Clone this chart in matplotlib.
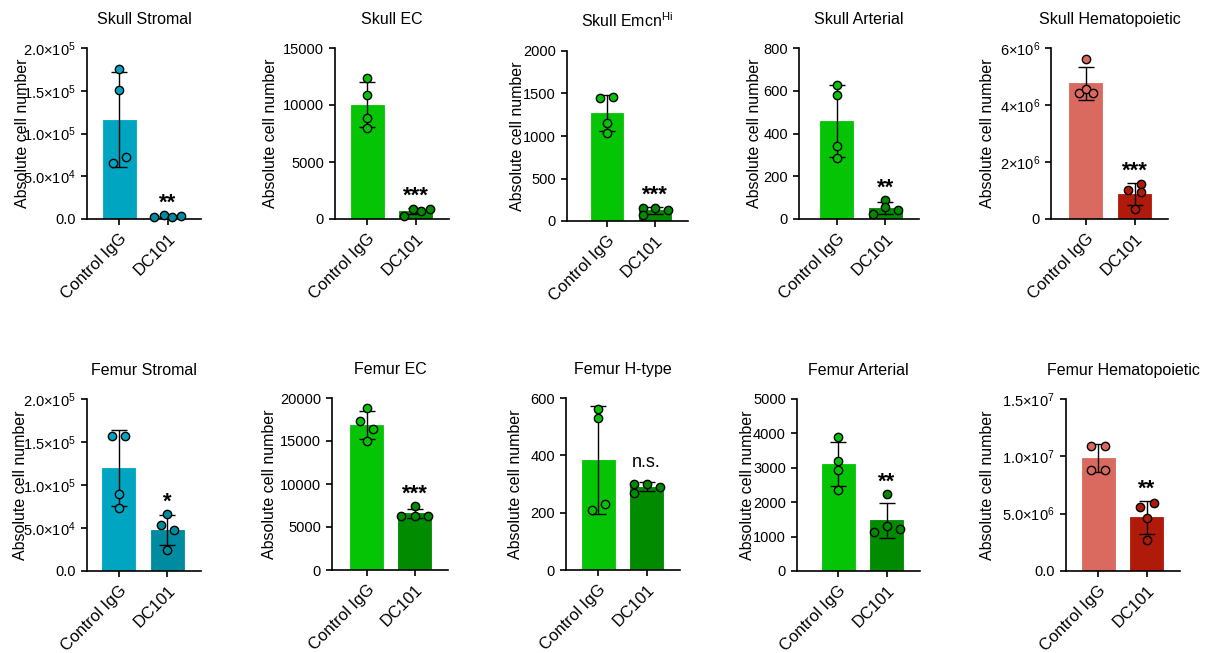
import matplotlib
matplotlib.use("Agg")
import matplotlib.pyplot as plt
import numpy as np

plt.rcParams['font.family'] = ['Liberation Sans', 'DejaVu Sans']
plt.rcParams['mathtext.fontset'] = 'custom'
plt.rcParams['mathtext.rm'] = 'Liberation Sans'
plt.rcParams['mathtext.it'] = 'Liberation Sans:italic'
plt.rcParams['mathtext.bf'] = 'Liberation Sans:bold'

# ---------------- data ----------------
groups = ["Control IgG", "DC101"]

titles = [
    "Skull Stromal", "Skull EC", r"Skull Emcn$^{\mathregular{Hi}}$", "Skull Arterial",
    "Skull Hematopoietic",
    "Femur Stromal", "Femur EC", "Femur H-type", "Femur Arterial", "Femur Hematopoietic",
]

control_igg = [
    [176000, 150500, 65500, 73000],
    [12400, 10850, 8900, 7950],
    [1450, 1460, 1150, 1040],
    [625, 580, 340, 287],
    [5620000, 4420000, 4560000, 4420000],
    [157300, 157300, 90000, 73400],
    [18850, 17300, 16450, 14950],
    [560, 530, 210, 230],
    [3900, 3200, 2950, 2350],
    [10900000, 10900000, 8800000, 8800000],
]

dc101 = [
    [2400, 5000, 2700, 3500],
    [300, 870, 700, 850],
    [157, 157, 72, 125],
    [87, 55, 23, 42],
    [1006000, 1228000, 947000, 351000],
    [66000, 53600, 48200, 24100],
    [7400, 6300, 6300, 6300],
    [301, 268, 301, 290],
    [2240, 1300, 1140, 1230],
    [5600000, 5900000, 4600000, 2700000],
]

significance = ["**", "***", "***", "**", "***", "*", "***", "n.s.", "**", "**"]

y_ticks = [
    [0, 5e4, 1e5, 1.5e5, 2e5],
    [0, 5000, 10000, 15000],
    [0, 500, 1000, 1500, 2000],
    [0, 200, 400, 600, 800],
    [0, 2e6, 4e6, 6e6],
    [0, 5e4, 1e5, 1.5e5, 2e5],
    [0, 5000, 10000, 15000, 20000],
    [0, 200, 400, 600],
    [0, 1000, 2000, 3000, 4000, 5000],
    [0, 5e6, 1e7, 1.5e7],
]

sci = lambda m, e: r"$\mathregular{%s{\times}10^{%d}}$" % (m, e)
y_tick_labels = [
    ["0.0", sci("5.0", 4), sci("1.0", 5), sci("1.5", 5), sci("2.0", 5)],
    ["0", "5000", "10000", "15000"],
    ["0", "500", "1000", "1500", "2000"],
    ["0", "200", "400", "600", "800"],
    ["0", sci("2", 6), sci("4", 6), sci("6", 6)],
    ["0.0", sci("5.0", 4), sci("1.0", 5), sci("1.5", 5), sci("2.0", 5)],
    ["0", "5000", "10000", "15000", "20000"],
    ["0", "200", "400", "600"],
    ["0", "1000", "2000", "3000", "4000", "5000"],
    ["0.0", sci("5.0", 6), sci("1.0", 7), sci("1.5", 7)],
]

# ---------------- style / layout ----------------
palettes = {
    "teal": ("#00A6C1", "#008CA0"),
    "green": ("#05C405", "#008B00"),
    "red": ("#DA6A60", "#B01A0A"),
}
panel_palette = ["teal", "green", "green", "green", "red",
                 "teal", "green", "green", "green", "red"]

# horizontal scatter of the individual points (x offsets in bar units)
control_jitter = [
    [0, 0, -0.13, 0.14], [0, 0, 0, 0], [-0.15, 0.12, 0, 0], [0, 0, 0, 0],
    [0, -0.14, 0, 0.15], [-0.14, 0.14, 0, 0], [0, -0.14, 0.14, 0],
    [0, 0, -0.13, 0.14], [0, 0, 0, 0], [-0.15, 0.15, -0.15, 0.15],
]
dc101_jitter = [
    [-0.27, -0.07, 0.10, 0.28], [-0.24, -0.055, 0.11, 0.29], [-0.24, 0, -0.24, 0.27],
    [0, 0, -0.26, 0.26], [-0.14, 0.14, 0.14, 0], [0, -0.14, 0.14, 0],
    [0, -0.28, 0, 0.28], [-0.26, -0.26, 0, 0.27], [0, 0, -0.26, 0.27],
    [-0.14, 0.15, 0, 0],
]

# axes boxes in pixels: left, right, top, bottom, left x-limit
boxes = [
    (87, 201, 48, 219, -0.66), (335, 449, 48, 219, -0.67), (567, 688, 51, 221, -0.83),
    (799, 919, 48, 219, -0.78), (1051, 1168, 48, 219, -0.72),
    (87, 201, 399, 571, -0.65), (332, 448, 398, 570, -0.72), (566, 680, 398, 570, -0.66),
    (797, 920, 399, 571, -0.85), (1066, 1180, 399, 571, -0.66),
]
# distance from the y axis to the right edge of the rotated y label
ylabel_offset_px = [57, 57, 42, 37, 56, 59, 55, 43, 42, 71]

W, H = 1213, 653
fig = plt.figure(figsize=(W / 100, H / 100), dpi=100)
fig.patch.set_facecolor("white")

for i in range(10):
    L, R, T, B, xlo = boxes[i]
    ax = fig.add_axes([L / W, 1 - B / H, (R - L) / W, (B - T) / H])
    c_ctrl, c_dc = palettes[panel_palette[i]]
    sets = [np.array(control_igg[i], float), np.array(dc101[i], float)]
    jit = [control_jitter[i], dc101_jitter[i]]
    cols = [c_ctrl, c_dc]
    for k in range(2):
        vals = sets[k]
        m = vals.mean()
        sd = vals.std(ddof=1)
        ax.bar(k, m, width=0.68, color=cols[k], edgecolor=cols[k], linewidth=0.6, zorder=1)
        ax.errorbar(k, m, yerr=sd, fmt="none", ecolor="black", elinewidth=1.0,
                    capsize=5.5, capthick=1.0, zorder=2)
        ax.scatter(k + np.array(jit[k]), vals, s=36, facecolor=cols[k],
                   edgecolor="black", linewidth=1.0, zorder=3, clip_on=False)
    # significance mark above DC101 group
    dc_vals = sets[1]
    top = max(dc_vals.max(), dc_vals.mean() + dc_vals.std(ddof=1))
    sig = significance[i]
    if sig == "n.s.":
        ax.annotate(sig, xy=(1, top), xytext=(0, 11), textcoords="offset points",
                    ha="center", va="baseline", fontsize=13)
    else:
        ax.annotate(sig, xy=(1, top), xytext=(0, 4.5), textcoords="offset points",
                    ha="center", va="baseline", fontsize=16, fontweight="bold")

    ax.set_xlim(xlo, 1.69)
    ax.set_ylim(0, y_ticks[i][-1])
    ax.set_yticks(y_ticks[i])
    ax.set_yticklabels(y_tick_labels[i], fontsize=10.5)
    ax.set_xticks([0, 1])
    ax.set_xticklabels(groups, rotation=45, ha="right", rotation_mode="anchor",
                       fontsize=12)
    for s in ("top", "right"):
        ax.spines[s].set_visible(False)
    for s in ("left", "bottom"):
        ax.spines[s].set_linewidth(1.2)
    ax.tick_params(axis="both", width=1.2, length=4.5, direction="out", colors="black")
    ax.tick_params(axis="x", pad=4)
    ax.set_ylabel("Absolute cell number", fontsize=11.5)
    ax.yaxis.set_label_coords(-ylabel_offset_px[i] / (R - L), 0.5)
    ax.set_title(titles[i], fontsize=11.5, pad=17)

fig.savefig("out.png", dpi=100, facecolor="white")
